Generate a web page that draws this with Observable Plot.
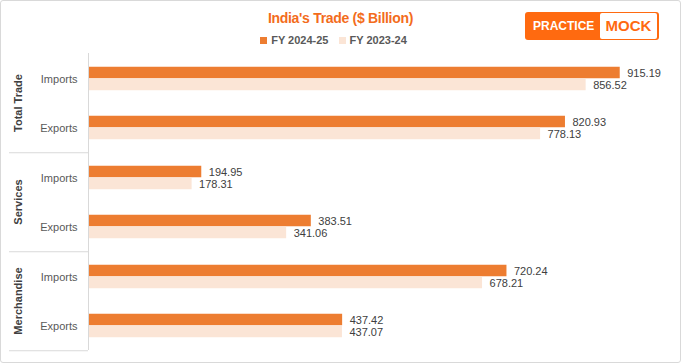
<!DOCTYPE html>
<html>
<head>
<meta charset="utf-8">
<script src="https://cdn.jsdelivr.net/npm/d3@7"></script>
<script src="https://cdn.jsdelivr.net/npm/@observablehq/plot@0.6"></script>
<style>
  body { margin: 0; background: #fff; font-family: "Liberation Sans", Arial, sans-serif; }
  #wrap { position: relative; width: 681px; height: 363px; overflow: hidden; }
  #wrap svg { position: absolute; left: 0; top: 0; }
  #border { position: absolute; left: 0; top: 0; right: 0; bottom: 0; border: 1px solid #d9d9d9; border-radius: 3px; pointer-events: none; }
  #title { position: absolute; left: 0; width: 681px; top: 10px; text-align: center; font-weight: bold; font-size: 14px; color: #F36C1C; letter-spacing: -0.3px; }
  #legend { position: absolute; left: -7px; width: 681px; top: 34px; text-align: center; font-size: 11px; color: #595959; font-weight: bold; }
  #legend span.item { display: inline-block; margin: 0 5px; }
  #legend span.sw { display: inline-block; width: 7px; height: 7px; margin-right: 4px; vertical-align: 0px; }
  #logo { position: absolute; left: 525px; top: 12px; width: 134px; height: 28px; background: #FF6A10; border-radius: 3px; }
  #logo .p { position: absolute; left: 8px; top: 7px; color: #fff; font-size: 12px; font-weight: bold; letter-spacing: 0px; }
  #logo .m { position: absolute; left: 75px; top: 1px; width: 57px; height: 26px; background: #fff; border-radius: 2px; color: #FF6A10; font-weight: bold; font-size: 15px; text-align: center; line-height: 26px; }
</style>
</head>
<body>
<div id="wrap">
  <div id="title"></div>
  <div id="legend"></div>
  <div id="logo"><span class="p">PRACTICE</span><span class="m">MOCK</span></div>
  <div id="border"></div>
</div>
<script>
const title = "India's Trade ($ Billion)";
const groups = ["Total Trade", "Services", "Merchandise"];
const flows = ["Imports", "Exports"];
const seriesNames = ["FY 2024-25", "FY 2023-24"];
const seriesColors = ["#ED7D31", "#FBE5D6"];
// order: Total Trade Imports, Total Trade Exports, Services Imports, Services Exports, Merchandise Imports, Merchandise Exports
const fy2425 = [915.19, 820.93, 194.95, 383.51, 720.24, 437.42];
const fy2324 = [856.52, 778.13, 178.31, 341.06, 678.21, 437.07];

const rowsFor = (vals) => vals.map((v, i) => ({group: groups[Math.floor(i / 2)], flow: flows[i % 2], value: v}));
const cur = rowsFor(fy2425);
const prev = rowsFor(fy2324);

document.getElementById("title").textContent = title;
document.getElementById("legend").innerHTML = seriesNames.map((s, i) =>
  `<span class="item"><span class="sw" style="background:${seriesColors[i]}"></span>${s}</span>`).join("");

const W = 681, H = 363, mL = 88, mR = 12, mT = 53, mB = 13;
const pxPerUnit = (W - mL - mR) / 1000;
const stub = -(mL - 9) / pxPerUnit;
const band = (H - mT - mB) / groups.length / flows.length;
const barH = 12;

const plot = Plot.plot({
  width: W, height: H,
  marginTop: mT, marginBottom: mB, marginLeft: mL, marginRight: mR,
  x: {domain: [0, 1000], axis: null},
  y: {domain: flows, padding: 0, label: null, axis: null},
  fy: {domain: groups, padding: 0, axis: null, label: null},
  style: {fontFamily: "Liberation Sans, Arial, sans-serif", fontSize: "11px", color: "#595959", background: "transparent"},
  marks: [
    Plot.barX(cur, {x: "value", y: "flow", fy: "group", fill: seriesColors[0], insetTop: band / 2 - barH, insetBottom: band / 2}),
    Plot.barX(prev, {x: "value", y: "flow", fy: "group", fill: seriesColors[1], insetTop: band / 2, insetBottom: band / 2 - barH}),
    Plot.text(cur, {x: "value", y: "flow", fy: "group", text: d => d.value.toFixed(2), textAnchor: "start", dx: 7, dy: -barH / 2, fill: "#404040", fontSize: 11}),
    Plot.text(prev, {x: "value", y: "flow", fy: "group", text: d => d.value.toFixed(2), textAnchor: "start", dx: 7, dy: barH / 2, fill: "#404040", fontSize: 11}),
    Plot.axisY({domain: flows, tickSize: 0, tickPadding: 11, label: null, fontSize: 11, fill: "#595959"}),
    Plot.ruleX([0], {stroke: "#d9d9d9"}),
    Plot.ruleY(groups, {fy: d => d, y: () => "Exports", dy: band / 2, x1: stub, x2: 0, stroke: "#d9d9d9"}),
    Plot.text(groups, {fy: d => d, text: d => d, frameAnchor: "left", textAnchor: "middle", rotate: -90, dx: -70, fontWeight: "bold", fill: "#404040", fontSize: 11})
  ]
});
document.getElementById("wrap").prepend(plot);
</script>
</body>
</html>
